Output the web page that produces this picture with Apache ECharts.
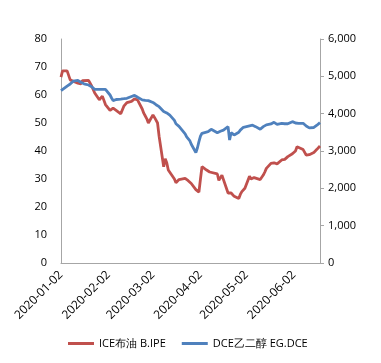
<!DOCTYPE html>
<html><head><meta charset="utf-8">
<script src="https://cdn.jsdelivr.net/npm/echarts@6/dist/echarts.min.js"></script>
<style>html,body{margin:0;padding:0;background:#fff}#c{width:381px;height:363px}</style>
</head><body><div id="c"></div>
<script>
// ICE Brent (left axis)
const brentDates = ['2020-01-02','2020-01-03','2020-01-06','2020-01-07','2020-01-08','2020-01-09','2020-01-10','2020-01-13','2020-01-14','2020-01-15','2020-01-16','2020-01-17','2020-01-20','2020-01-21','2020-01-22','2020-01-24','2020-01-27','2020-01-28','2020-01-29','2020-01-31','2020-02-03','2020-02-05','2020-02-07','2020-02-10','2020-02-11','2020-02-12','2020-02-13','2020-02-14','2020-02-17','2020-02-18','2020-02-19','2020-02-20','2020-02-21','2020-02-24','2020-02-25','2020-02-26','2020-02-27','2020-02-28','2020-03-02','2020-03-03','2020-03-04','2020-03-05','2020-03-06','2020-03-09','2020-03-10','2020-03-11','2020-03-12','2020-03-13','2020-03-16','2020-03-17','2020-03-18','2020-03-19','2020-03-20','2020-03-23','2020-03-24','2020-03-25','2020-03-26','2020-03-27','2020-03-30','2020-03-31','2020-04-01','2020-04-02','2020-04-03','2020-04-06','2020-04-07','2020-04-08','2020-04-09','2020-04-13','2020-04-14','2020-04-15','2020-04-16','2020-04-17','2020-04-20','2020-04-21','2020-04-22','2020-04-23','2020-04-24','2020-04-27','2020-04-28','2020-04-29','2020-04-30','2020-05-01','2020-05-04','2020-05-05','2020-05-06','2020-05-07','2020-05-08','2020-05-11','2020-05-12','2020-05-13','2020-05-14','2020-05-15','2020-05-18','2020-05-19','2020-05-20','2020-05-21','2020-05-22','2020-05-25','2020-05-26','2020-05-27','2020-05-28','2020-05-29','2020-06-01','2020-06-02','2020-06-03','2020-06-04','2020-06-05','2020-06-08','2020-06-09','2020-06-10','2020-06-11','2020-06-12','2020-06-15','2020-06-16','2020-06-17','2020-06-18','2020-06-19'];
const brentValues = [66.4,68.6,68.6,68.3,65.4,65.4,64.9,64.2,64.5,64.0,65.1,65.0,65.2,64.6,63.2,60.7,58.3,59.0,59.6,56.6,54.5,55.3,54.5,53.3,54.0,56.0,56.3,57.3,57.7,58.0,58.6,58.5,58.2,55.0,53.5,52.5,51.5,50.0,52.9,52.0,51.0,50.0,45.3,34.4,37.2,35.8,33.2,33.8,30.0,28.7,28.7,29.8,29.7,30.2,30.2,29.4,28.8,28.4,26.2,25.7,25.3,30.0,34.4,33.2,33.0,32.5,32.1,31.8,29.5,29.0,31.4,30.8,25.0,24.6,25.0,24.8,23.8,23.0,24.5,25.5,26.2,26.7,31.0,30.0,30.2,30.5,30.2,29.8,30.5,31.4,32.5,33.8,35.6,35.8,35.8,35.6,35.4,36.8,36.5,37.0,37.4,38.0,39.0,39.4,40.0,41.5,41.3,40.5,40.0,38.5,38.2,38.7,39.5,40.2,40.6,41.2,41.8];
// DCE ethylene glycol (right axis)
const egDates = ['2020-01-02','2020-01-03','2020-01-06','2020-01-07','2020-01-08','2020-01-09','2020-01-10','2020-01-13','2020-01-14','2020-01-15','2020-01-16','2020-01-17','2020-01-20','2020-01-21','2020-01-22','2020-01-23','2020-01-24','2020-01-31','2020-02-03','2020-02-04','2020-02-05','2020-02-06','2020-02-07','2020-02-10','2020-02-11','2020-02-12','2020-02-13','2020-02-14','2020-02-17','2020-02-18','2020-02-19','2020-02-20','2020-02-21','2020-02-24','2020-02-25','2020-02-26','2020-02-27','2020-02-28','2020-03-02','2020-03-03','2020-03-04','2020-03-05','2020-03-06','2020-03-09','2020-03-10','2020-03-11','2020-03-12','2020-03-13','2020-03-16','2020-03-17','2020-03-18','2020-03-19','2020-03-20','2020-03-23','2020-03-24','2020-03-25','2020-03-26','2020-03-27','2020-03-30','2020-03-31','2020-04-01','2020-04-02','2020-04-03','2020-04-07','2020-04-08','2020-04-09','2020-04-10','2020-04-13','2020-04-14','2020-04-15','2020-04-16','2020-04-17','2020-04-20','2020-04-21','2020-04-22','2020-04-23','2020-04-24','2020-04-27','2020-04-28','2020-04-29','2020-04-30','2020-05-06','2020-05-07','2020-05-08','2020-05-11','2020-05-12','2020-05-13','2020-05-14','2020-05-15','2020-05-18','2020-05-19','2020-05-20','2020-05-21','2020-05-22','2020-05-25','2020-05-26','2020-05-27','2020-05-28','2020-05-29','2020-06-01','2020-06-02','2020-06-03','2020-06-04','2020-06-05','2020-06-08','2020-06-09','2020-06-10','2020-06-11','2020-06-12','2020-06-15','2020-06-16','2020-06-17','2020-06-18','2020-06-19'];
const egValues = [4616,4650,4740,4770,4795,4830,4870,4890,4870,4840,4815,4800,4768,4740,4720,4690,4652,4652,4500,4420,4348,4370,4380,4390,4395,4400,4411,4411,4460,4470,4491,4480,4440,4370,4360,4355,4350,4348,4300,4280,4240,4210,4187,4060,4040,4020,4000,3960,3820,3730,3690,3660,3634,3460,3380,3340,3280,3180,2960,3080,3250,3400,3474,3518,3540,3581,3550,3490,3474,3530,3545,3560,3652,3295,3491,3460,3429,3500,3560,3600,3634,3690,3660,3652,3581,3620,3652,3680,3700,3724,3740,3768,3740,3715,3742,3742,3730,3724,3730,3786,3770,3750,3742,3742,3742,3700,3670,3640,3620,3630,3652,3690,3742,3760];
const tickDates = ['2020-01-02','2020-02-02','2020-03-02','2020-04-02','2020-05-02','2020-06-02'];
const seriesNames = ['ICE布油 B.IPE','DCE乙二醇 EG.DCE'];
const axisStart = '2020-01-02', axisEnd = '2020-06-19';

function t(s){const p=s.split('-').map(Number);return new Date(p[0],p[1]-1,p[2]).getTime();}
function pad(n){return (n<10?'0':'')+n;}
function fmt(v){const d=new Date(v);return d.getFullYear()+'-'+pad(d.getMonth()+1)+'-'+pad(d.getDate());}

const chart = echarts.init(document.getElementById('c'), null, {renderer:'canvas'});
const font = 'Open Sans';
chart.setOption({
  animation:false,
  backgroundColor:'#fff',
  grid:{left:61,right:61,top:39,bottom:100,containLabel:false},
  legend:{
    bottom:9,left:63,itemWidth:26,itemHeight:3,itemGap:16,icon:'rect',
    textStyle:{fontFamily:font,fontSize:11,color:'#000'},
    data:seriesNames
  },
  xAxis:{
    type:'value',min:t(axisStart),max:t(axisEnd),
    axisLine:{lineStyle:{color:'#a6a6a6',width:1}},
    axisTick:{show:false},
    splitLine:{show:false},
    axisLabel:{
      customValues:tickDates.map(t),
      rotate:45,margin:10,fontFamily:font,fontSize:12,color:'#000',
      formatter:function(v){return fmt(v);}
    }
  },
  yAxis:[{
    type:'value',min:0,max:80,interval:10,position:'left',
    axisLine:{show:true,lineStyle:{color:'#a6a6a6'}},
    axisTick:{show:false},splitLine:{show:false},
    axisLabel:{margin:14,fontFamily:font,fontSize:11,color:'#000'}
  },{
    type:'value',min:0,max:6000,interval:1000,position:'right',
    axisLine:{show:true,lineStyle:{color:'#a6a6a6'}},
    axisTick:{show:true,length:4,inside:false,lineStyle:{color:'#a6a6a6'}},
    splitLine:{show:false},
    axisLabel:{margin:8,fontFamily:font,fontSize:11,color:'#000',
      formatter:function(v){return v.toLocaleString('en-US');}}
  }],
  series:[{
    name:seriesNames[0],type:'line',yAxisIndex:0,showSymbol:false,symbol:'none',
    lineStyle:{color:'#C0504D',width:2.8},itemStyle:{color:'#C0504D'},
    data:brentDates.map((d,i)=>[t(d),brentValues[i]])
  },{
    name:seriesNames[1],type:'line',yAxisIndex:1,showSymbol:false,symbol:'none',
    lineStyle:{color:'#4F81BD',width:2.8},itemStyle:{color:'#4F81BD'},
    data:egDates.map((d,i)=>[t(d),egValues[i]])
  }]
});
</script></body></html>
